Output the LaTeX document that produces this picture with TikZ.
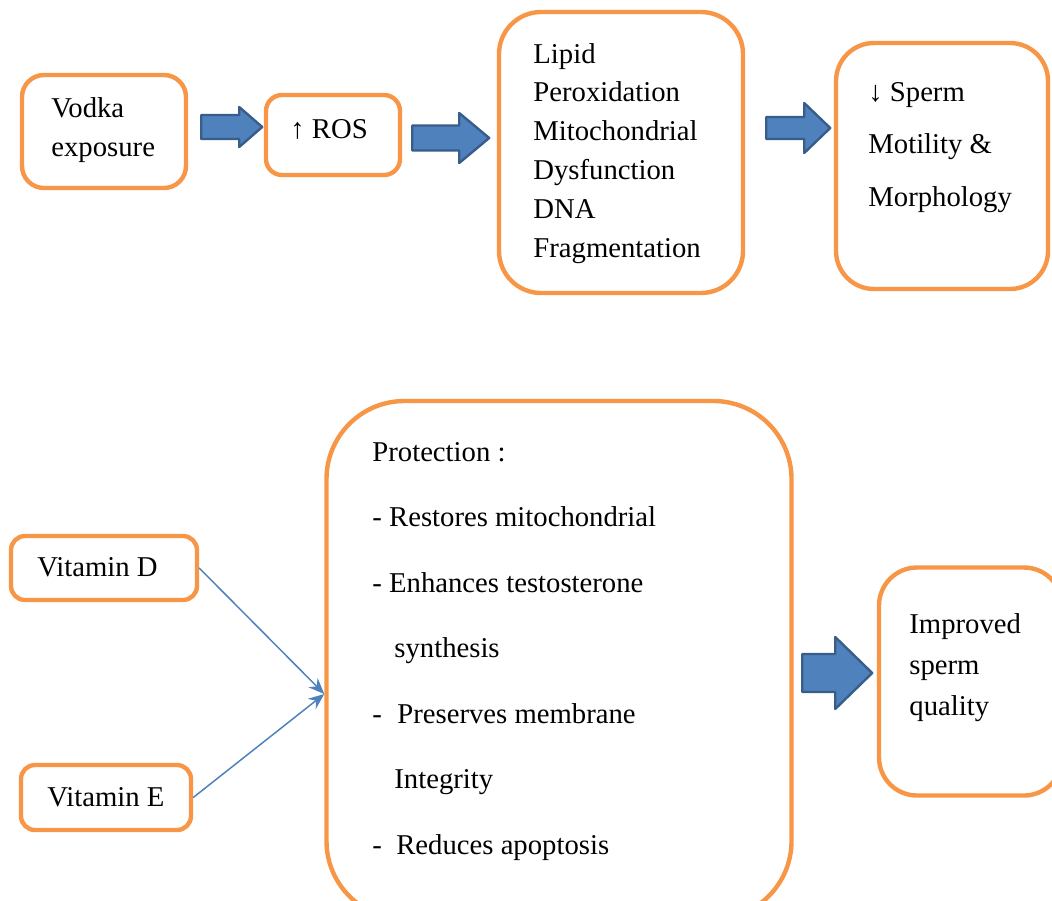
\documentclass[tikz,border=0pt]{standalone}
\usepackage{fontspec}
\setmainfont{Liberation Serif}
\usetikzlibrary{calc, arrows.meta}

\definecolor{boxorange}{HTML}{F79646}
\definecolor{arrfill}{HTML}{4F81BD}
\definecolor{arrline}{HTML}{385D8A}

\newcommand{\lsp}[1]{\fontsize{14.35}{#1}\selectfont}
% tail, length, head length, shaft half width, head half width
\newcommand{\blockarr}[5]{%
  \draw[barrow] #1 ++(0,-#4) -- ++({#2-#3},0) -- ++(0,{#4-#5}) -- ++(#3,#5)
    -- ++(-#3,#5) -- ++(0,{#4-#5}) -- ++({#3-#2},0) -- cycle;}

\tikzset{
  box/.style={draw=boxorange, line width=2.2pt, rounded corners=#1},
  box/.default=8pt,
  txt/.style={anchor=base west, align=left, inner sep=0pt, font=\lsp{17}},
  barrow/.style={fill=arrfill, draw=arrline, line width=1.2pt, line join=round},
  thinarr/.style={draw=arrfill, line width=0.75pt, -{Stealth[length=8pt, width=6.5pt]}}
}

\begin{document}
\begin{tikzpicture}[x=0.5pt, y=-0.5pt]
  \useasboundingbox (0,0) rectangle (1052,900);
  \clip (0,0) rectangle (1052,900);

  % top row
  \node[box=11pt, minimum width=82pt, minimum height=56.5pt] (vodka) at (104,131.5) {};
  \node[box, minimum width=67pt, minimum height=40pt] (ros) at (333,135) {};
  \node[box=21pt, minimum width=122pt, minimum height=140.5pt] (lipid) at (621,152.5) {};
  \node[box=19pt, minimum width=106pt, minimum height=123pt] (sperm) at (942,166) {};

  % text nodes sit on the baseline of their last line
  \node[txt, font=\lsp{19.5}] (vodkatxt) at (51,156) {Vodka\\exposure};
  \node[txt] (rostxt) at (290,138) {↑ ROS};
  \node[txt, font=\lsp{19.4}] (lipidtxt) at (533,257)
    {Lipid\\Peroxidation\\Mitochondrial\\Dysfunction\\DNA\\Fragmentation};
  \node[txt, font=\lsp{26.25}] (spermtxt) at (868,206) {↓ Sperm\\Motility \&\\Morphology};

  \blockarr{($(vodka.east)+(13,-4.5)$)}{61}{23}{12}{20}
  \blockarr{($(ros.east)+(10,3)$)}{77}{30}{12.5}{25}
  \blockarr{($(lipid.east)+(21,-24.5)$)}{64}{26}{11}{25}

  % bottom row
  \node[box=7pt, minimum width=93pt, minimum height=32pt] (vitd) at (104,568) {};
  \node[box=7pt, minimum width=85pt, minimum height=32.5pt] (vite) at (106,797.5) {};
  \node[box=39pt, minimum width=232.5pt, minimum height=259pt] (prot) at (559,660) {};
  \node[box=19pt, minimum width=91.5pt, minimum height=114pt] (impr) at (970.5,681.5) {};

  \node[txt] (vitdtxt) at (37,576) {Vitamin D};
  \node[txt] (vitetxt) at (47,806) {Vitamin E};
  \node[txt, font=\lsp{32.75}] (prottxt) at (372,854)
    {Protection :\\- Restores mitochondrial\\- Enhances testosterone\\
     \hspace*{11pt}synthesis\\-\hspace*{7.7pt}Preserves membrane\\
     \hspace*{11pt}Integrity\\-\hspace*{7.2pt}Reduces apoptosis};
  \node[txt, font=\lsp{20.5}] (imprtxt) at (909,715) {Improved\\sperm\\quality};

  \coordinate (meet) at ($(prot.west)+(0,34)$);
  \draw[thinarr] (vitd.east) -- (meet);
  \draw[thinarr] (vite.east) -- (meet);

  \blockarr{($(prot.east)+(8.5,13)$)}{70}{37}{19}{36}
\end{tikzpicture}
\end{document}
